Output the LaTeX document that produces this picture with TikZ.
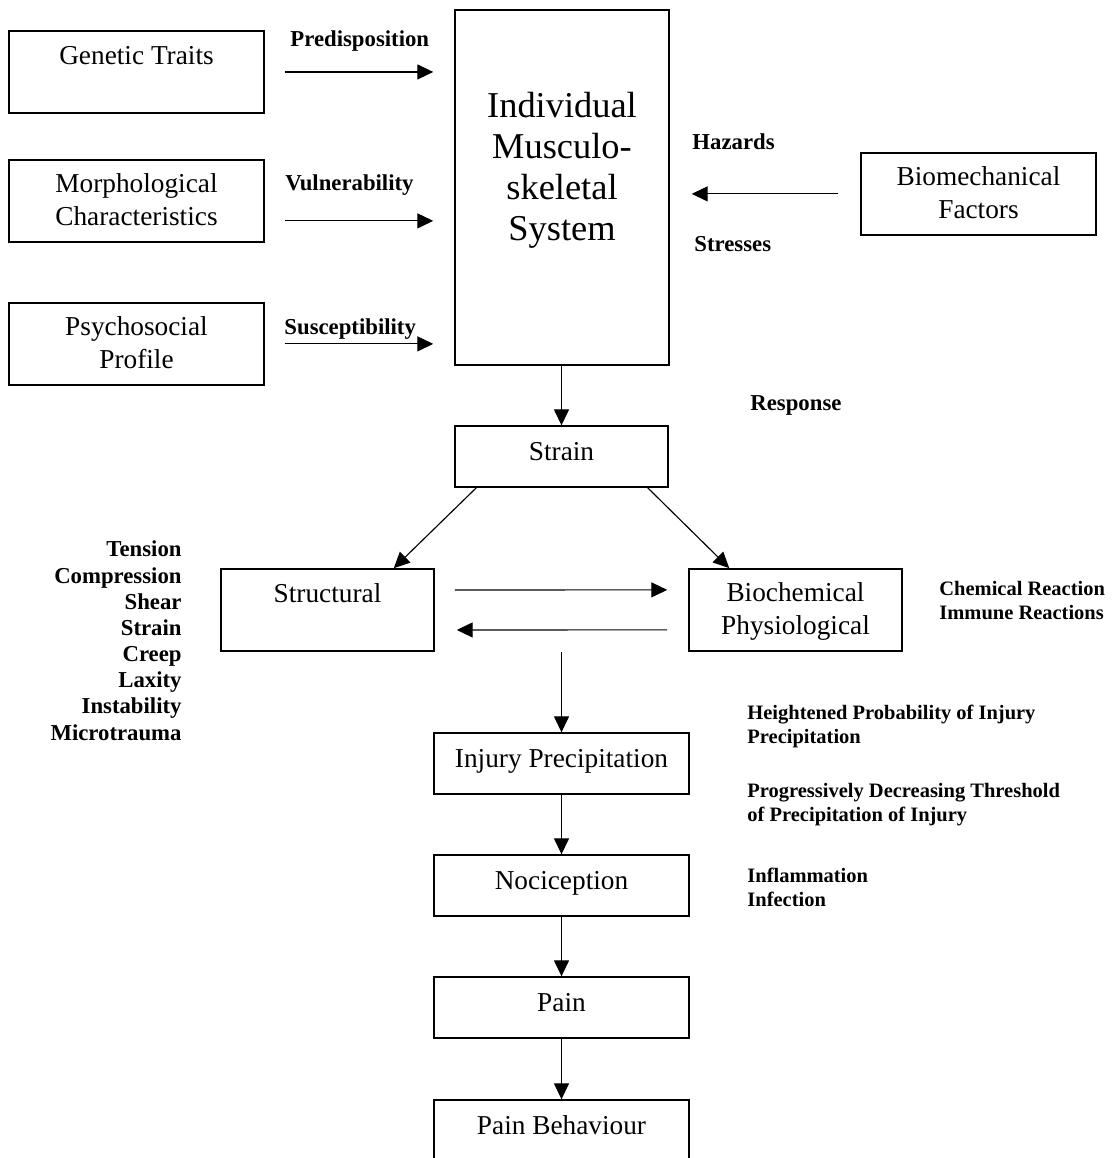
\documentclass[tikz,border=0pt]{standalone}
\usepackage{fontspec}
\setmainfont{Liberation Serif}
\usetikzlibrary{arrows.meta,calc}
\tikzset{
  box/.style={draw, line width=0.7pt, inner sep=0pt, align=center, anchor=base,
    font=\fontsize{12}{14.5}\selectfont},
  tall/.style={box, text height=14.5pt, text depth=21.5pt},
  twoline/.style={box, text height=28.6pt, text depth=7.4pt},
  flat/.style={box, text height=14.9pt, text depth=11.9pt},
  arr/.style={line width=0.5pt, -{Triangle[length=7pt,width=6.6pt]}},
  lbl/.style={font=\fontsize{10}{11.5}\selectfont\bfseries, inner sep=0pt, anchor=base west},
  sml/.style={font=\fontsize{9}{10.4}\selectfont\bfseries, inner sep=0pt, anchor=base west, align=left}
}
\begin{document}
\begin{tikzpicture}[x=0.4395pt, y=-0.4395pt]
\useasboundingbox (0,0) rectangle (1117,1158);
% boxes, placed by their last baseline
\node[tall, minimum width=112.1pt] (gen) at (136.5,64) {Genetic Traits};
\node[twoline, minimum width=112.1pt] (morph) at (136.5,225) {Morphological\\Characteristics};
\node[twoline, minimum width=112.1pt] (psy) at (136.5,368) {Psychosocial\\Profile};
\node[box, minimum width=94pt, text height=101.1pt, text depth=54.9pt,
  font=\fontsize{16}{18}\selectfont] (indiv) at (562,240) {Individual\\Musculo-\\skeletal\\System};
\node[twoline, minimum width=103.3pt] (bio) at (978.5,218) {Biomechanical\\Factors};
\node[flat, minimum width=93.6pt] (strain) at (561.5,460) {Strain};
\node[tall, minimum width=93.6pt] (struct) at (327.5,602) {Structural};
\node[twoline, minimum width=93.6pt] (biochem) at (795.5,634) {Biochemical\\Physiological};
\node[flat, minimum width=112.1pt] (injury) at (561.5,767) {Injury Precipitation};
\node[flat, minimum width=112.1pt] (noci) at (561.5,889) {Nociception};
\node[flat, minimum width=112.1pt] (pain) at (561.5,1011) {Pain};
\node[flat, minimum width=112.1pt] (painb) at (561.5,1134) {Pain Behaviour};
% labels
\node[lbl] (predisp) at (290,46) {Predisposition};
\node[lbl] (vuln) at (285,190) {Vulnerability};
\node[lbl] (suscept) at (284,334) {Susceptibility};
\node[lbl] (hazards) at (692,149) {Hazards};
\node[lbl] (stresses) at (694,251) {Stresses};
\node[lbl] (response) at (750,410) {Response};
\node[lbl, anchor=base east, align=right] (modes) at (182,740)
  {Tension\\Compression\\Shear\\Strain\\Creep\\Laxity\\Instability\\Microtrauma};
\node[sml] (reactions) at (939,619) {Chemical Reaction\\Immune Reactions};
\node[sml] (probability) at (747,743) {Heightened Probability of Injury\\Precipitation};
\node[sml] (threshold) at (747,821) {Progressively Decreasing Threshold\\of Precipitation of Injury};
\node[sml] (inflam) at (747,906) {Inflammation\\Infection};
% arrows
\draw[arr] ($(gen.east)+(20,0)$) -- ($(gen.east -| indiv.west)+(-21,0)$);
\draw[arr] ($(morph.east)+(20,20)$) -- ($(morph.east -| indiv.west)+(-21,20)$);
\draw[arr] ($(psy.east)+(20,0)$) -- ($(psy.east -| indiv.west)+(-21,0)$);
\draw[arr] ($(bio.west)+(-22,0)$) -- ($(bio.west -| indiv.east)+(22,0)$);
\draw[arr] (strain.north |- indiv.south) -- (strain.north);
\draw[arr] ($(strain.south west)+(22,0)$) -- ($(struct.north east)+(-41,0)$);
\draw[arr] ($(strain.south east)+(-21,0)$) -- ($(biochem.north west)+(41,0)$);
\draw[arr] ($(struct.east)+(20,-20)$) -- ($(biochem.west)+(-21,-20)$);
\draw[arr] ($(biochem.west)+(-21,20)$) -- ($(struct.east)+(22,20)$);
\draw[arr] (struct.south -| injury.north) -- (injury.north);
\draw[arr] (injury.south) -- (noci.north);
\draw[arr] (noci.south) -- (pain.north);
\draw[arr] (pain.south) -- (painb.north);
\end{tikzpicture}
\end{document}
